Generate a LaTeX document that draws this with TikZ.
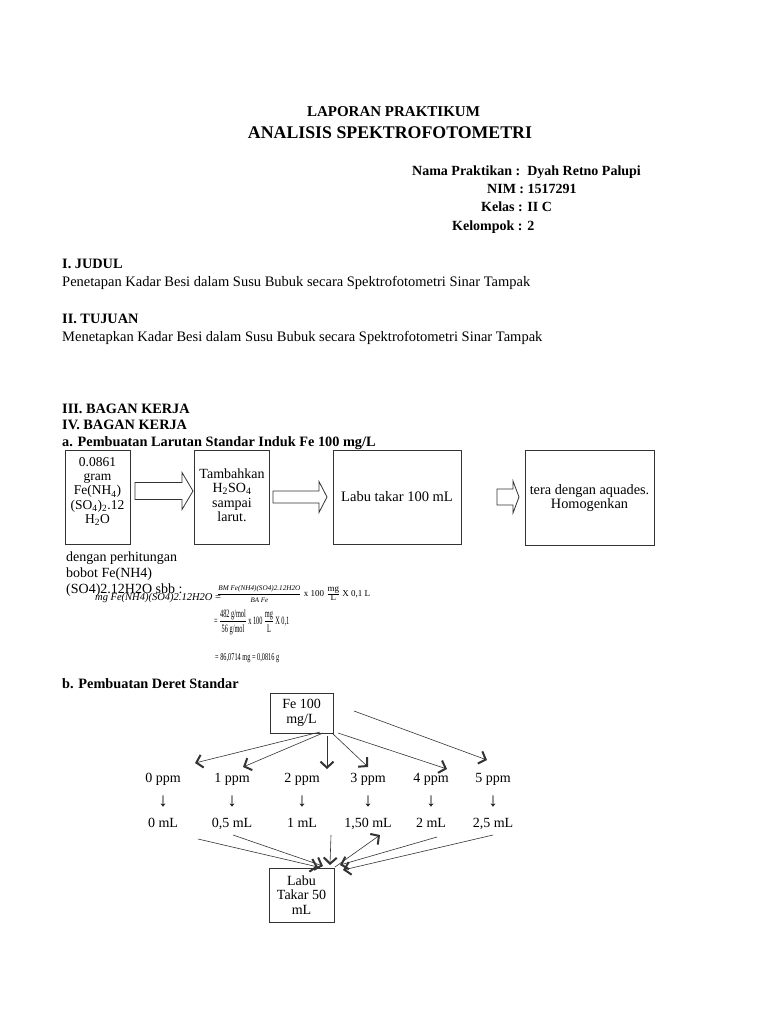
\documentclass[tikz,border=0pt]{standalone}
\usepackage{amsmath}
\usepackage{fontspec}
\setmainfont{Liberation Serif}
\usetikzlibrary{arrows.meta}
\newcommand{\blkarrow}[6]{%
  \draw[blk] (#1,#4-#5) -- (#2,#4-#5) -- (#2,#4-#6) -- (#3,#4) -- (#2,#4+#6) -- (#2,#4+#5) -- (#1,#4+#5) -- cycle;}
\begin{document}
\begin{tikzpicture}[x=1pt,y=-1pt,
  t/.style={inner sep=0pt, anchor=base west, font=\fontsize{14.5}{16}\selectfont},
  tb/.style={inner sep=0pt, anchor=base west, font=\fontsize{14.3}{16}\selectfont\bfseries},
  box/.style={draw=black!80, line width=0.9pt, inner sep=0pt},
  btxt/.style={inner sep=0pt, align=center, font=\fontsize{14}{14.5}\selectfont},
  lab/.style={inner sep=0pt, anchor=base, font=\fontsize{14}{16}\selectfont},
  blk/.style={draw=black!80, line width=0.8pt, fill=white},
  con/.style={draw=black!80, line width=0.6pt, -{Straight Barb[length=6pt,width=13pt,line width=2pt]}},
]
\useasboundingbox[fill=white] (0,0) rectangle (768,1024);

% header
\node[tb, anchor=base, font=\fontsize{15}{17}\selectfont\bfseries] (h1) at (393.5,117) {LAPORAN PRAKTIKUM};
\node[tb, anchor=base, font=\fontsize{17.8}{20}\selectfont\bfseries] (h2) at (390,139) {ANALISIS SPEKTROFOTOMETRI};
\node[tb, font=\fontsize{14}{16}\selectfont\bfseries] (nama) at (412,176) {Nama Praktikan :\ \ Dyah Retno Palupi};
\node[tb, font=\fontsize{14}{16}\selectfont\bfseries] (nim) at (487,194) {NIM : 1517291};
\node[tb, font=\fontsize{14}{16}\selectfont\bfseries] (kelas) at (481,212) {Kelas : II C};
\node[tb, font=\fontsize{14}{16}\selectfont\bfseries] (kel) at (452,231) {Kelompok : 2};

\node[tb] (judul) at (62,268) {I. JUDUL};
\node[t] (judult) at (62,286) {Penetapan Kadar Besi dalam Susu Bubuk secara Spektrofotometri Sinar Tampak};
\node[tb] (tuj) at (62,323) {II. TUJUAN};
\node[t] (tujt) at (62,341) {Menetapkan Kadar Besi dalam Susu Bubuk secara Spektrofotometri Sinar Tampak};
\node[tb] (bag3) at (62,413) {III. BAGAN KERJA};
\node[tb] (bag4) at (62,429) {IV. BAGAN KERJA};
\node[tb] (sa) at (62,446) {a. Pembuatan Larutan Standar Induk Fe 100 mg/L};

% part a boxes
\node[box, minimum width=65pt, minimum height=94pt] (b1) at (97.5,497) {};
\node[btxt, font=\fontsize{13.5}{14.4}\selectfont] (b1t) at (97.5,491.5) {0.0861\\gram\\Fe(NH\textsubscript{4})\\(SO\textsubscript{4})\textsubscript{2}.12\\H\textsubscript{2}O};
\node[box, minimum width=75pt, minimum height=94pt] (b2) at (231.5,497) {};
\node[btxt] (b2t) at (232,495) {Tambahkan\\H\textsubscript{2}SO\textsubscript{4}\\sampai\\larut.};
\node[box, minimum width=128pt, minimum height=94pt] (b3) at (397,497) {};
\node[btxt, font=\fontsize{14.5}{14.5}\selectfont] (b3t) at (397,497) {Labu takar 100 mL};
\node[box, minimum width=129pt, minimum height=95pt] (b4) at (589.5,497.5) {};
\node[btxt, font=\fontsize{14.3}{14.5}\selectfont] (b4t) at (589.5,498) {tera dengan aquades.\\Homogenkan};

\blkarrow{135}{182}{193}{491}{8.5}{18.5}
\blkarrow{273}{319}{327}{497}{6}{15.5}
\blkarrow{497}{513}{519}{497}{8}{16}

% calculation
\node[t, font=\fontsize{14}{16}\selectfont] (d1) at (66,561) {dengan perhitungan};
\node[t, font=\fontsize{14}{16}\selectfont] (d2) at (66,577) {bobot Fe(NH4)};
\node[t, font=\fontsize{14}{16}\selectfont] (d3) at (66,593) {(SO4)2.12H2O sbb :};
\node[inner sep=0pt, anchor=base west, font=\fontsize{10.5}{12}\selectfont] (f1) at (95,600) {\textit{mg Fe(NH4)(SO4)2.12H2O} =};
\node[inner sep=0pt, anchor=west, font=\fontsize{9}{11}\selectfont] (f2) at (217,594)
  {$\dfrac{\mbox{\fontsize{7.2}{8}\selectfont\itshape BM Fe(NH4)(SO4)2.12H2O}}{\mbox{\fontsize{7}{8}\selectfont\itshape BA Fe}}$ x 100 $\frac{\mbox{mg}}{\mbox{L}}$ X 0,1 L};
\node[inner sep=0pt, anchor=west, font=\fontsize{9}{10}\selectfont] (f3) at (214,622)
  {\scalebox{0.7}[1.25]{= $\dfrac{\mbox{482 g/mol}}{\mbox{56 g/mol}}$ x 100 $\dfrac{\mbox{mg}}{\mbox{L}}$ X 0,1}};
\node[inner sep=0pt, anchor=west, font=\fontsize{9}{10}\selectfont] (f4) at (215,658)
  {\scalebox{0.7}[1.15]{= 86,0714 mg = 0,0816 g}};

% part b
\node[tb] (sb) at (62,688) {b. Pembuatan Deret Standar};
\node[box, minimum width=63pt, minimum height=40pt, btxt] (fe) at (301.5,713) {Fe 100\\mg/L};

\foreach \n/\x/\p/\m in {0/163/{0 ppm}/{0 mL}, 1/232/{1 ppm}/{0,5 mL}, 2/302/{2 ppm}/{1 mL}, 3/368/{3 ppm}/{1,50 mL}, 4/431/{4 ppm}/{2 mL}, 5/493/{5 ppm}/{2,5 mL}}{
  \node[lab] (p\n) at (\x,782) {\p};
  \node[inner sep=0pt, font=\fontsize{19}{20}\selectfont] (a\n) at (\x,801) {↓};
  \node[lab] (m\n) at (\x,827) {\m};
}

\coordinate (s0) at (320,732); \coordinate (e0) at (195,763);
\coordinate (s1) at (323,733); \coordinate (e1) at (243,767);
\coordinate (s2) at (327,736); \coordinate (e2) at (327,769);
\coordinate (s3) at (332,733); \coordinate (e3) at (368,767);
\coordinate (s4) at (338,733); \coordinate (e4) at (447,769);
\coordinate (s5) at (354,711); \coordinate (e5) at (487,760);
\foreach \i in {0,...,5}{ \draw[con] (s\i) -- (e\i); }

\node[box, minimum width=65pt, minimum height=54pt, btxt] (labu) at (301.5,895) {Labu\\Takar 50\\mL};

\coordinate (u0) at (198,839); \coordinate (v0) at (318,867);
\coordinate (u1) at (233,835); \coordinate (v1) at (323,866);
\coordinate (u2) at (331,835); \coordinate (v2) at (330,865);
\coordinate (u3) at (335,867); \coordinate (v3) at (380,835);
\coordinate (u4) at (437,837); \coordinate (v4) at (340,865);
\coordinate (u5) at (493,835); \coordinate (v5) at (343,870);
\foreach \i in {0,...,5}{ \draw[con] (u\i) -- (v\i); }

\end{tikzpicture}
\end{document}
